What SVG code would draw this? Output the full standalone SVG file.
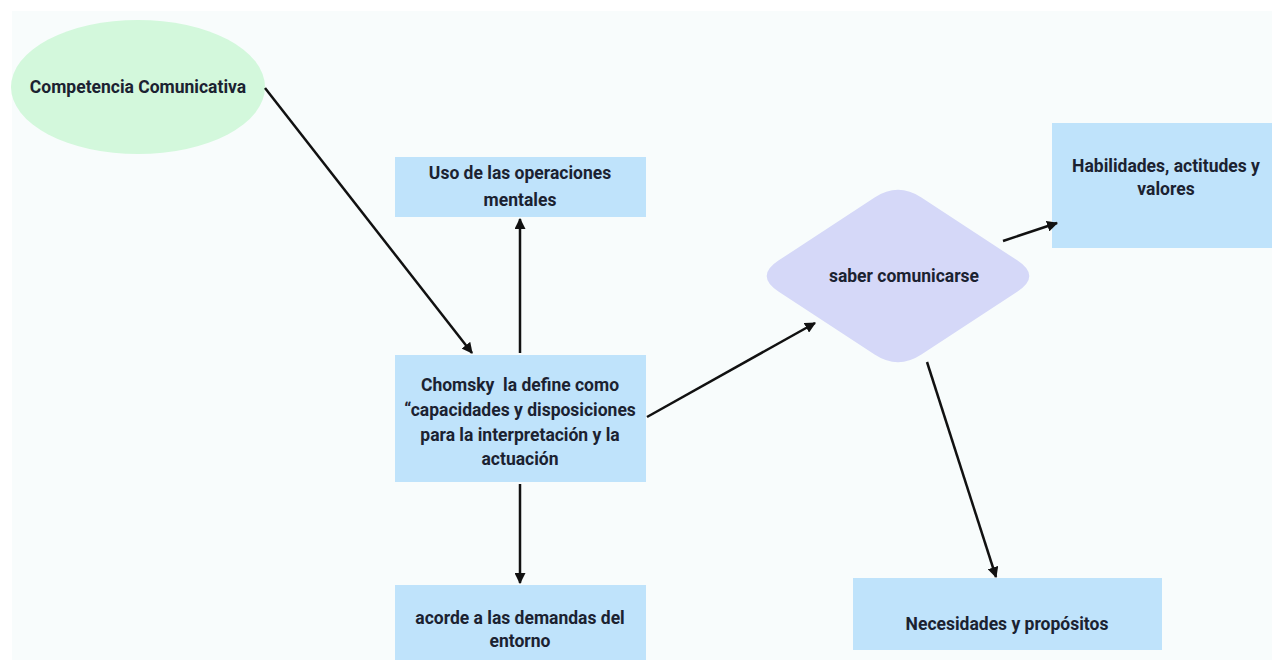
<svg xmlns="http://www.w3.org/2000/svg" width="1272" height="660" viewBox="0 0 1272 660">
<defs>
<style>
.t{font-family:Roboto,"Liberation Sans",sans-serif;font-weight:bold;font-size:17.5px;fill:#1b2231;text-anchor:middle;white-space:pre}
.box{fill:#bfe3fb}
.c{stroke:#111;stroke-width:2.5;fill:none;marker-end:url(#ah)}
</style>
<marker id="ah" viewBox="0 0 10 10" refX="9" refY="5" markerWidth="4.4" markerHeight="4.4" orient="auto" markerUnits="strokeWidth">
<path d="M0,0 L10,5 L0,10 Z" fill="#111"/>
</marker>
</defs>
<rect width="1272" height="660" fill="#ffffff"/>
<rect x="12" y="11" width="1260" height="649" fill="#f8fcfc"/>

<g id="competencia">
<ellipse cx="138" cy="87" rx="127" ry="67" fill="#d3f8dc"/>
<text class="t" x="138" y="93">Competencia Comunicativa</text>
</g>

<g id="uso">
<rect class="box" x="395" y="157" width="251" height="60"/>
<text class="t" x="520" y="179">Uso de las operaciones</text>
<text class="t" x="520" y="206">mentales</text>
</g>

<g id="chomsky">
<rect class="box" x="395" y="355" width="251" height="127"/>
<text class="t" x="520" y="391" xml:space="preserve">Chomsky  la define como</text>
<text class="t" x="520" y="416">“capacidades y disposiciones</text>
<text class="t" x="520" y="441">para la interpretación y la</text>
<text class="t" x="520" y="465">actuación</text>
</g>

<g id="acorde">
<rect class="box" x="395" y="585" width="251" height="75"/>
<text class="t" x="520" y="624">acorde a las demandas del</text>
<text class="t" x="520" y="647">entorno</text>
</g>

<g id="saber">
<path d="M778.4,260.6 L874.6,197.4 Q898,182 921.4,197.4 L1017.6,260.6 Q1041,276 1017.6,291.4 L921.4,354.6 Q898,370 874.6,354.6 L778.4,291.4 Q755,276 778.4,260.6 Z" fill="#d5d8f8"/>
<text class="t" x="904" y="282">saber comunicarse</text>
</g>

<g id="habilidades">
<rect class="box" x="1052" y="123" width="220" height="125"/>
<text class="t" x="1166" y="172">Habilidades, actitudes y</text>
<text class="t" x="1166" y="195">valores</text>
</g>

<g id="necesidades">
<rect class="box" x="853" y="578" width="309" height="72"/>
<text class="t" x="1007" y="630">Necesidades y propósitos</text>
</g>

<g id="connectors">
<line class="c" x1="265" y1="88" x2="472" y2="353"/>
<line class="c" x1="520" y1="353" x2="520" y2="219"/>
<line class="c" x1="520" y1="484" x2="520" y2="583"/>
<line class="c" x1="647" y1="417" x2="815" y2="323"/>
<line class="c" x1="1003" y1="241" x2="1057" y2="223"/>
<line class="c" x1="927" y1="362" x2="996" y2="577"/>
</g>
</svg>
